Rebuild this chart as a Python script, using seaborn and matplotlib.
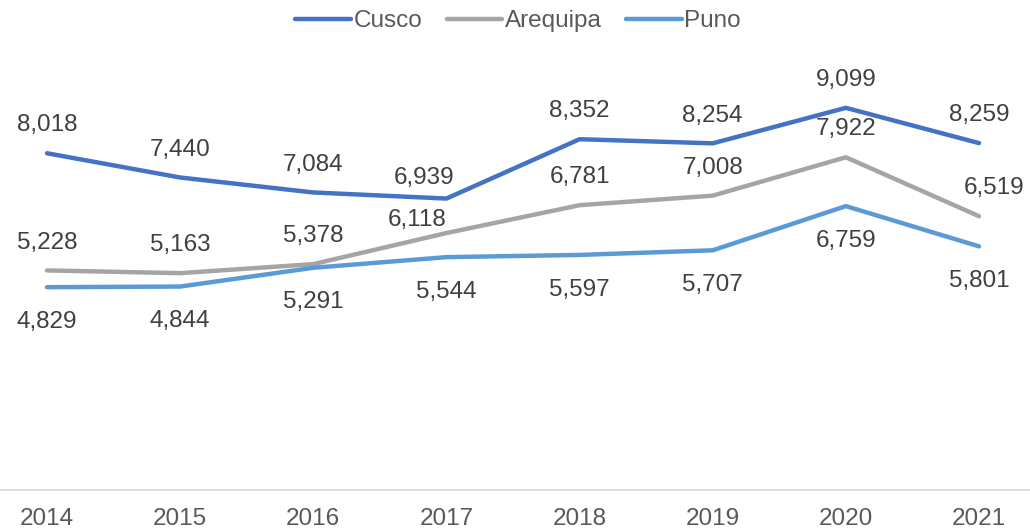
import numpy as np
import pandas as pd
import matplotlib.pyplot as plt
import seaborn as sns

# Data
years = ['2014', '2015', '2016', '2017', '2018', '2019', '2020', '2021']
cusco = [8018, 7440, 7084, 6939, 8352, 8254, 9099, 8259]
arequipa = [5228, 5163, 5378, 6118, 6781, 7008, 7922, 6519]
puno = [4829, 4844, 5291, 5544, 5597, 5707, 6759, 5801]

regions = ['Cusco', 'Arequipa', 'Puno']
colors = ['#4472C4', '#A5A5A5', '#5B9BD5']

df = pd.DataFrame({
    'Year': years * 3,
    'Value': cusco + arequipa + puno,
    'Region': [r for r in regions for _ in years],
})
df['x'] = df['Year'].map({y: i for i, y in enumerate(years)})

sns.set_style('white')
plt.rcParams['font.family'] = ['Liberation Sans', 'DejaVu Sans']

fig = plt.figure(figsize=(10.3, 5.29), dpi=100)
ax = fig.add_axes([0, 0.0737, 1, 0.794])

sns.lineplot(data=df, x='x', y='Value', hue='Region', palette=colors,
             linewidth=3.2, ax=ax, legend=False)

# Data labels: Cusco & Arequipa above, Puno below
offsets = {'Cusco': 20, 'Arequipa': 20, 'Puno': -25}
# a few labels were nudged by hand in the original
nudges = {('Cusco', '2017'): (-16, 14.5),
          ('Arequipa', '2017'): (-21, 9.5),
          ('Arequipa', '2021'): (11, 20)}
for reg in regions:
    sub = df[df['Region'] == reg]
    for xi, yr, v in zip(sub['x'], sub['Year'], sub['Value']):
        dx, dy = nudges.get((reg, yr), (0, offsets[reg]))
        ax.annotate(f'{v:,}', (xi, v), xytext=(dx, dy),
                    textcoords='offset points', ha='center', va='center',
                    fontsize=17.5, color='#404040')

ax.set_xlim(-0.353, 7.383)
ax.set_ylim(0, 10000)
ax.set_xticks(range(len(years)))
ax.set_xticklabels(years, fontsize=17.5, color='#595959')
ax.set_yticks([])
ax.set_xlabel('')
ax.set_ylabel('')
ax.tick_params(axis='x', length=0, pad=13)
for s in ['top', 'right', 'left']:
    ax.spines[s].set_visible(False)
ax.spines['bottom'].set_color('#D9D9D9')
ax.spines['bottom'].set_linewidth(1.2)

handles = [plt.Line2D([], [], color=c, lw=3.2) for c in colors]
fig.legend(handles, regions, loc='center', bbox_to_anchor=(0.503, 0.96),
           ncol=3, frameon=False, fontsize=17.5, handlelength=2.3,
           handletextpad=0.1, columnspacing=1.0, labelcolor='#595959')

fig.savefig('out.png', dpi=100)
